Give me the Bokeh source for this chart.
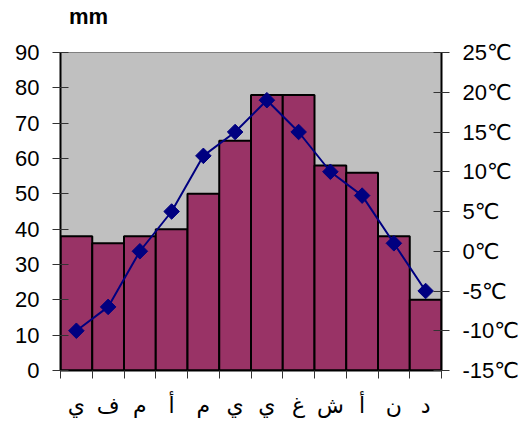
from bokeh.plotting import figure
from bokeh.models import Range1d, LinearAxis, FixedTicker, ColumnDataSource
from bokeh.embed import file_html
from bokeh.resources import INLINE

months = ["ي", "ف", "م", "أ", "م", "ي", "ي", "غ", "ش", "أ", "ن", "د"]
precip_mm = [38, 36, 38, 40, 50, 65, 78, 78, 58, 56, 38, 20]
temp_c = [-10, -7, 0, 5, 12, 15, 19, 15, 10, 7, 1, -5]
mm_ticks = [0, 10, 20, 30, 40, 50, 60, 70, 80, 90]
temp_ticks = [-15, -10, -5, 0, 5, 10, 15, 20, 25]
temp_labels = ["-15℃", "-10℃", "-5℃", "0℃", "5℃", "10℃", "15℃", "20℃", "25℃"]
unit_label = "mm"

centers = [i + 0.5 for i in range(len(months))]
bounds = [i for i in range(len(months) + 1)]
src = ColumnDataSource(dict(x=centers, mm=precip_mm, t=temp_c))

FONT = "'Liberation Sans', 'DejaVu Sans', Arial, sans-serif"

p = figure(width=531, height=430, output_backend="svg", toolbar_location=None,
           x_range=Range1d(0, 12), y_range=Range1d(0, 90),
           min_border_left=60, min_border_right=90, min_border_top=51, min_border_bottom=60,
           x_axis_type=None, y_axis_type=None)
p.extra_y_ranges = {"t": Range1d(-15, 25)}
p.background_fill_color = "#C0C0C0"
p.border_fill_color = "white"
p.outline_line_color = "#808080"
p.outline_line_width = 1
p.xgrid.visible = False
p.ygrid.visible = False

p.vbar(x="x", top="mm", width=1.0, bottom=0, source=src,
       fill_color="#993366", line_color="black", line_width=2)
p.line(x="x", y="t", source=src, y_range_name="t", line_color="#000080", line_width=2)
p.scatter(x="x", y="t", source=src, y_range_name="t", marker="square", angle=0.785398,
          size=11, fill_color="#000080", line_color="#000080")

def style(ax):
    ax.axis_line_color = "black"
    ax.axis_line_width = 2
    ax.major_tick_line_color = "#333333"
    ax.major_tick_line_width = 1
    ax.major_tick_in = 8
    ax.major_tick_out = 8
    ax.minor_tick_line_color = None
    ax.major_label_text_font = FONT
    ax.major_label_text_font_size = "22px"
    ax.major_label_text_color = "black"
    ax.major_label_standoff = 13

left = LinearAxis(ticker=FixedTicker(ticks=mm_ticks))
style(left)
p.add_layout(left, "left")

right = LinearAxis(y_range_name="t", ticker=FixedTicker(ticks=temp_ticks),
                   major_label_overrides={v: s for v, s in zip(temp_ticks, temp_labels)})
style(right)
p.add_layout(right, "right")

bottom = LinearAxis(ticker=FixedTicker(ticks=centers, minor_ticks=bounds),
                    major_label_overrides={c: m for c, m in zip(centers, months)})
style(bottom)
bottom.major_tick_line_color = None
bottom.major_tick_in = 0
bottom.minor_tick_line_color = "#333333"
bottom.minor_tick_in = 0
bottom.minor_tick_out = 8
bottom.major_label_standoff = 14
p.add_layout(bottom, "below")

# unit caption above the left axis, placed as a single-tick axis label
top = LinearAxis(ticker=FixedTicker(ticks=[0.88]), major_label_overrides={0.88: unit_label})
top.axis_line_color = None
top.major_tick_line_color = None
top.minor_tick_line_color = None
top.major_tick_in = 0
top.major_tick_out = 0
top.major_label_text_font = FONT
top.major_label_text_font_size = "22px"
top.major_label_text_font_style = "bold"
top.major_label_text_color = "black"
top.major_label_standoff = 24
p.add_layout(top, "above")

open("out.html", "w").write(file_html(p, INLINE))
